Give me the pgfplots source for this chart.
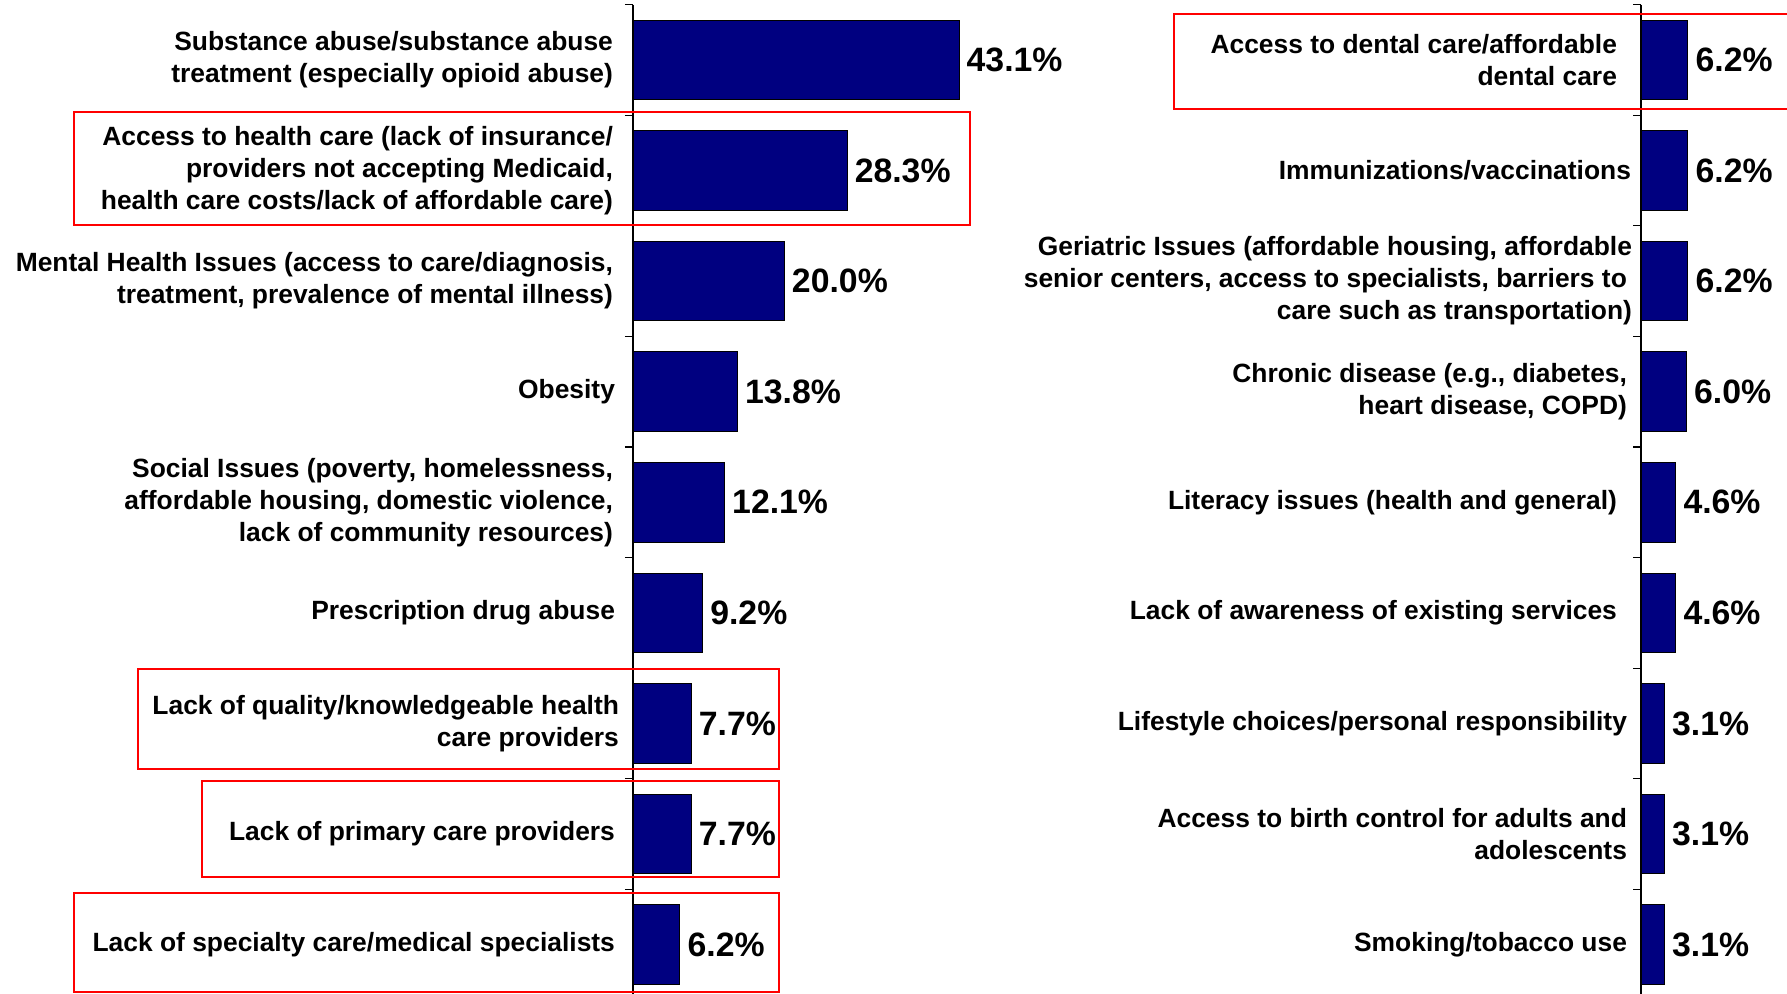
\documentclass[border=0pt]{standalone}
\usepackage{fontspec}
\setmainfont{Liberation Sans}
\usepackage{pgfplots}
\pgfplotsset{compat=1.18}
\definecolor{barblue}{RGB}{0,0,128}
\pgfplotsset{mystyle/.style={
  scale only axis, xbar, bar width=0.72, bar shift=0pt,
  xmin=0, y dir=reverse, ymin=0.5, ymax=9.5,
  height=497.6bp, hide x axis, axis y line*=left,
  ytick={1,...,9}, major tick length=0pt,
  extra y ticks={0.5,1.5,2.5,3.5,4.5,5.5,6.5,7.5,8.5,9.5}, extra y tick labels={},
  extra y tick style={major tick length=4bp, tick align=outside, tick style={black, line width=0.6bp}},
  axis line style={black, line width=0.6bp},
  yticklabel style={font=\fontsize{13.2bp}{16bp}\selectfont\bfseries, align=right},
  point meta=x,
  nodes near coords={\pgfmathprintnumber[fixed,fixed zerofill,precision=1]{\pgfplotspointmeta}\%},
  every node near coord/.append style={font=\fontsize{16.9bp}{20bp}\selectfont\bfseries, anchor=west, inner xsep=3.6bp, black},
  clip=false,
  /pgf/number format/assume math mode=true,
}}
\newcommand{\rs}[1]{\hspace*{#1}}
\begin{document}
\begin{tikzpicture}
\useasboundingbox (0,0) rectangle (893.5bp,497bp);
% left panel
\begin{axis}[mystyle, at={(316.5bp,494.65bp)}, anchor=north west,
  xmax=50, width=189.1bp,
  yticklabel style={xshift=-6.5bp},
  yticklabels={
    {Substance abuse/substance abuse\\treatment (especially opioid abuse)},
    {Access to health care (lack of insurance/\\providers not accepting Medicaid,\\health care costs/lack of affordable care)},
    {Mental Health Issues (access to care/diagnosis,\\treatment, prevalence of mental illness)},
    {Obesity\rs{-1bp}},
    {Social Issues (poverty, homelessness,\\affordable housing, domestic violence,\\lack of community resources)},
    {Prescription drug abuse\rs{-1bp}},
    {Lack of quality/knowledgeable health\rs{-3bp}\\care providers\rs{-3bp}},
    {Lack of primary care providers\rs{-1bp}},
    {Lack of specialty care/medical specialists\rs{-1bp}}}]
\addplot[fill=barblue, draw=black, line width=0.5bp] coordinates {
  (43.1,1) (28.3,2) (20.0,3) (13.8,4) (12.1,5) (9.2,6) (7.7,7) (7.7,8) (6.2,9)};
\draw[red, line width=1bp] (axis cs:-73.9,1.47) rectangle (axis cs:44.55,2.49);
\draw[red, line width=1bp] (axis cs:-65.4,6.51) rectangle (axis cs:19.3,7.41);
\draw[red, line width=1bp] (axis cs:-57.0,7.52) rectangle (axis cs:19.3,8.39);
\draw[red, line width=1bp] (axis cs:-73.9,8.53) rectangle (axis cs:19.3,9.43);
\end{axis}
% right panel
\begin{axis}[mystyle, at={(820.5bp,494.65bp)}, anchor=north west,
  xmax=19.3, width=73bp,
  yticklabel style={xshift=-3.5bp},
  yticklabels={
    {Access to dental care/affordable\rs{5bp}\\dental care\rs{5bp}},
    {Immunizations/vaccinations\rs{-2bp}},
    {Geriatric Issues (affordable housing, affordable\rs{-2.5bp}\\senior centers, access to specialists, barriers to\rs{-2.5bp}\\care such as transportation)\rs{-2.5bp}},
    {Chronic disease (e.g., diabetes,\\heart disease, COPD)},
    {Literacy issues (health and general)\rs{5bp}},
    {Lack of awareness of existing services\rs{5bp}},
    {Lifestyle choices/personal responsibility},
    {Access to birth control for adults and\\adolescents},
    {Smoking/tobacco use}}]
\addplot[fill=barblue, draw=black, line width=0.5bp] coordinates {
  (6.2,1) (6.2,2) (6.2,3) (6.0,4) (4.6,5) (4.6,6) (3.1,7) (3.1,8) (3.1,9)};
\draw[red, line width=1bp] (axis cs:-61.7,0.58) rectangle (axis cs:19.8,1.44);
\end{axis}
\end{tikzpicture}
\end{document}
